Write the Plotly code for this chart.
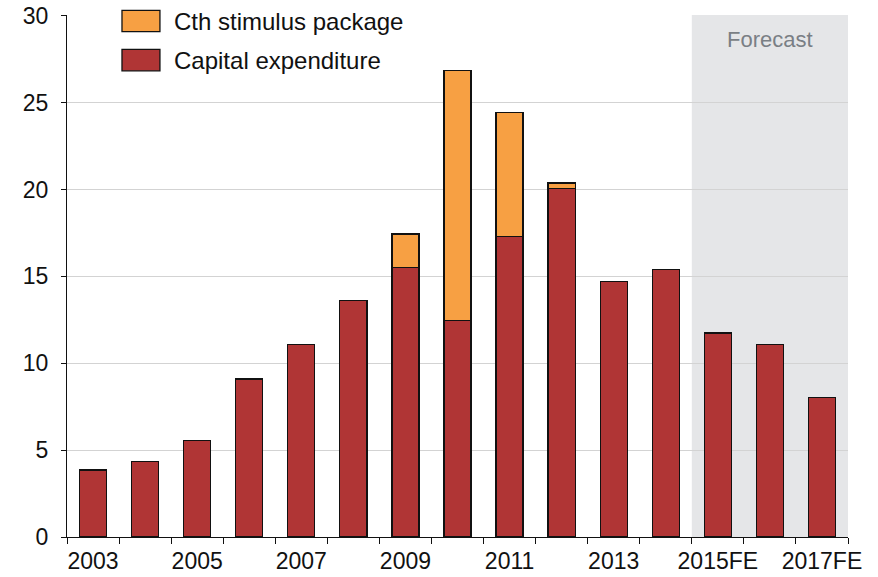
import plotly.graph_objects as go

categories = ["2003", "2004", "2005", "2006", "2007", "2008", "2009", "2010",
              "2011", "2012", "2013", "2014", "2015FE", "2016FE", "2017FE"]
capex = [3.85, 4.35, 5.55, 9.1, 11.1, 13.6, 15.5, 12.45, 17.3, 20.05, 14.7, 15.4, 11.75, 11.1, 8.05]
stimulus = [0, 0, 0, 0, 0, 0, 1.95, 14.4, 7.15, 0.33, 0, 0, 0, 0, 0]
tick_labels = ["2003", "", "2005", "", "2007", "", "2009", "", "2011", "", "2013", "",
               "2015FE", "", "2017FE"]
series_names = ["Cth stimulus package", "Capital expenditure"]
forecast_start = "2015FE"

RED = "#B03535"
ORANGE = "#F7A043"
FONT = "Liberation Sans, Arial, sans-serif"
FS = 23

fig = go.Figure()
fig.add_trace(go.Bar(x=categories, y=capex, name=series_names[1],
                     marker=dict(color=RED, line=dict(color="#111111", width=1.3))))
fig.add_trace(go.Bar(x=categories, y=[s if s > 0 else None for s in stimulus],
                     name=series_names[0],
                     marker=dict(color=ORANGE, line=dict(color="#111111", width=1.3))))

fi = categories.index(forecast_start)
fig.add_shape(type="rect", xref="x", yref="paper", x0=fi - 0.5, x1=len(categories) - 0.5,
              y0=0, y1=1, fillcolor="#E5E6E8", line=dict(width=0), layer="below")
fig.add_annotation(x=(fi - 0.5 + len(categories) - 0.5) / 2, xref="x", y=0.954, yref="paper",
                   yanchor="middle", text="Forecast", showarrow=False,
                   font=dict(family=FONT, size=FS - 1, color="#7A7F85"))

# Custom legend (large swatches like the reference)
fig.add_shape(type="rect", xref="paper", yref="paper", x0=0.027, x1=0.449, y0=0.877, y1=1.021,
              fillcolor="white", line=dict(width=0), layer="between")
legend_items = [(series_names[0], ORANGE, 0.9885), (series_names[1], RED, 0.9136)]
for name, col, yc in legend_items:
    fig.add_shape(type="rect", xref="paper", yref="paper", x0=0.0704, x1=0.119,
                  y0=yc - 0.0205, y1=yc + 0.0205, fillcolor=col,
                  line=dict(color="#111111", width=1.3), layer="above")
    fig.add_annotation(x=0.1344, y=yc, xref="paper", yref="paper", text=name,
                       showarrow=False, xanchor="left", yanchor="middle",
                       font=dict(family=FONT, size=FS + 1, color="#111111"))

fig.update_layout(
    width=878, height=577,
    margin=dict(l=67, r=30, t=15, b=40, autoexpand=False),
    barmode="stack", bargap=0.48,
    plot_bgcolor="rgba(0,0,0,0)", paper_bgcolor="white",
    font=dict(family=FONT, size=FS, color="#111111"),
    showlegend=False,
    xaxis=dict(type="category", tickson="boundaries", tickvals=categories, ticktext=tick_labels,
               ticks="outside", ticklen=6, tickcolor="#111111", tickangle=0, automargin=False,
               ticklabelstandoff=3,
               showline=True, linecolor="#111111", linewidth=1.3, showgrid=False,
               tickfont=dict(family=FONT, size=FS, color="#111111"),
               range=[-0.5, len(categories) - 0.5]),
    yaxis=dict(range=[0, 30.05], tickvals=[0, 5, 10, 15, 20, 25, 30], ticks="outside",
               ticklen=5, tickcolor="#111111", automargin=False, ticklabelstandoff=8,
               showline=True, linecolor="#111111", linewidth=1.3,
               showgrid=True, gridcolor="#D3D3D3", gridwidth=1.3, zeroline=False,
               tickfont=dict(family=FONT, size=FS, color="#111111")),
)

fig.write_html("out.html", config={"displayModeBar": False},
               post_script="document.body.style.margin='0px';document.body.style.overflow='hidden';")
